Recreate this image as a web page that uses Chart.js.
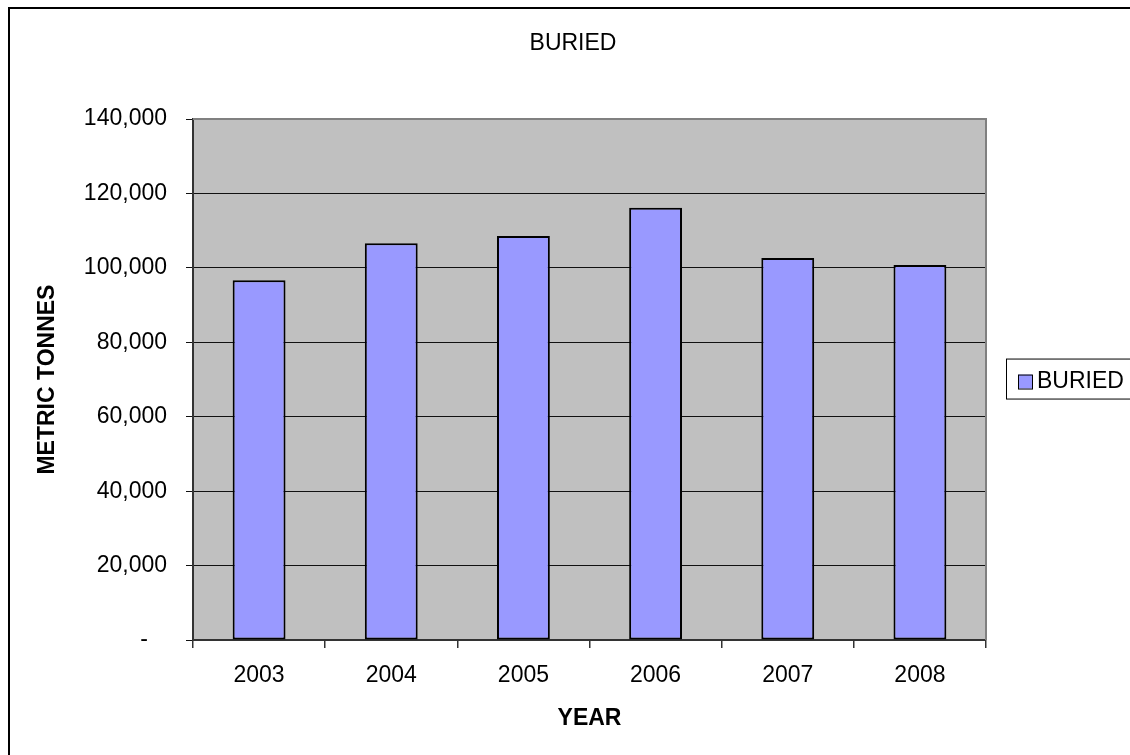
<!DOCTYPE html>
<html>
<head>
<meta charset="utf-8">
<title>BURIED</title>
<script src="https://cdn.jsdelivr.net/npm/chart.js@4/dist/chart.umd.min.js"></script>
<style>
  html, body { margin: 0; padding: 0; background: #ffffff; overflow: hidden; }
  #wrap { position: absolute; left: 0; top: 0; }
</style>
</head>
<body>
<div id="wrap"><canvas id="c" width="1146" height="775" style="width:1146px;height:775px"></canvas></div>
<script>
// Annual tonnage buried, 2003-2008
const years = ['2003', '2004', '2005', '2006', '2007', '2008'];
const buried = [96700, 106600, 108600, 116200, 102700, 100800];
const seriesName = 'BURIED';
const yTicks = [0, 20000, 40000, 60000, 80000, 100000, 120000, 140000];

const FONT = '"Liberation Sans", Arial, sans-serif';
const BAR_FILL = '#9999FF';

// white page with the chart frame, grey plot area behind the bars
const framePlugin = {
  id: 'frame',
  beforeDraw(chart) {
    const ctx = chart.ctx;
    const a = chart.chartArea;
    ctx.save();
    ctx.fillStyle = '#ffffff';
    ctx.fillRect(0, 0, chart.width, chart.height);
    ctx.strokeStyle = '#000000';
    ctx.lineWidth = 2;
    ctx.strokeRect(9, 8, chart.width - 17, chart.height - 14);
    ctx.fillStyle = '#C0C0C0';
    ctx.fillRect(a.left, a.top, a.right - a.left, a.bottom - a.top);
    ctx.restore();
  },
  beforeDatasetsDraw(chart) {
    const ctx = chart.ctx;
    const a = chart.chartArea;
    ctx.save();
    ctx.strokeStyle = '#808080';
    ctx.lineWidth = 2;
    ctx.beginPath();
    ctx.moveTo(a.left, a.top);
    ctx.lineTo(a.right, a.top);
    ctx.lineTo(a.right, a.bottom);
    ctx.stroke();
    ctx.restore();
  }
};

// boxed legend to the right of the plot
const legendBoxPlugin = {
  id: 'legendBox',
  afterDraw(chart) {
    const ctx = chart.ctx;
    const a = chart.chartArea;
    const ds = chart.data.datasets[0];
    const boxLeft = a.right + 20;
    const midY = (a.top + a.bottom) / 2;
    ctx.save();
    ctx.strokeStyle = '#000000';
    ctx.lineWidth = 1;
    ctx.strokeRect(boxLeft + 0.5, midY - 20.5, 150, 40);
    ctx.fillStyle = ds.backgroundColor;
    ctx.fillRect(boxLeft + 12, midY - 5, 14, 14);
    ctx.strokeRect(boxLeft + 12.5, midY - 4.5, 14, 14);
    ctx.fillStyle = '#000000';
    ctx.font = '23px ' + FONT;
    ctx.textAlign = 'left';
    ctx.textBaseline = 'middle';
    ctx.fillText(ds.label, boxLeft + 31, midY + 2);
    ctx.restore();
  }
};

new Chart(document.getElementById('c'), {
  type: 'bar',
  data: {
    labels: years,
    datasets: [{
      label: seriesName,
      data: buried,
      backgroundColor: BAR_FILL,
      borderColor: '#000000',
      borderWidth: 2,
      borderSkipped: false,
      barPercentage: 0.4,
      categoryPercentage: 1.0,
      yAxisID: 'y'
    }]
  },
  options: {
    responsive: false,
    animation: false,
    devicePixelRatio: 1,
    layout: { padding: { left: 10, right: 10, top: 0, bottom: 35 } },
    plugins: {
      legend: { display: false },
      tooltip: { enabled: false },
      title: {
        display: true,
        text: seriesName,
        color: '#000000',
        font: { family: FONT, size: 23, weight: 'normal' },
        padding: { top: 29.5, bottom: 62 }
      }
    },
    scales: {
      x: {
        offset: true,
        grid: {
          display: true,
          offset: true,
          drawOnChartArea: false,
          drawTicks: true,
          tickLength: 8,
          color: '#333333',
          lineWidth: 1.5
        },
        border: { display: true, color: '#333333', width: 2 },
        ticks: {
          color: '#000000',
          font: { family: FONT, size: 23 },
          padding: 14,
          maxRotation: 0
        },
        title: {
          display: true,
          text: 'YEAR',
          color: '#000000',
          font: { family: FONT, size: 23, weight: 'bold' },
          padding: { top: 0, bottom: 8 }
        },
        afterFit(scale) { scale.height = 100; }
      },
      y: {
        position: 'left',
        min: 0,
        max: 140000,
        afterBuildTicks(scale) { scale.ticks = yTicks.map(v => ({ value: v })); },
        grid: {
          display: true,
          drawTicks: true,
          tickLength: 7,
          color: '#111111',
          lineWidth: 1
        },
        border: { display: true, color: '#333333', width: 2 },
        ticks: {
          color: '#000000',
          font: { family: FONT, size: 23 },
          padding: 19,
          callback: v => v === 0 ? '-   ' : Number(v).toLocaleString('en-US')
        },
        title: {
          display: true,
          text: 'METRIC TONNES',
          color: '#000000',
          font: { family: FONT, size: 23, weight: 'bold' },
          padding: { top: 23.7, bottom: 0 }
        },
        afterFit(scale) { scale.width = 183; }
      },
      side: {
        position: 'right',
        display: true,
        grid: { display: false, drawTicks: false },
        border: { display: false },
        ticks: { display: false },
        afterFit(scale) { scale.width = 150; }
      }
    }
  },
  plugins: [framePlugin, legendBoxPlugin]
});
</script>
</body>
</html>
